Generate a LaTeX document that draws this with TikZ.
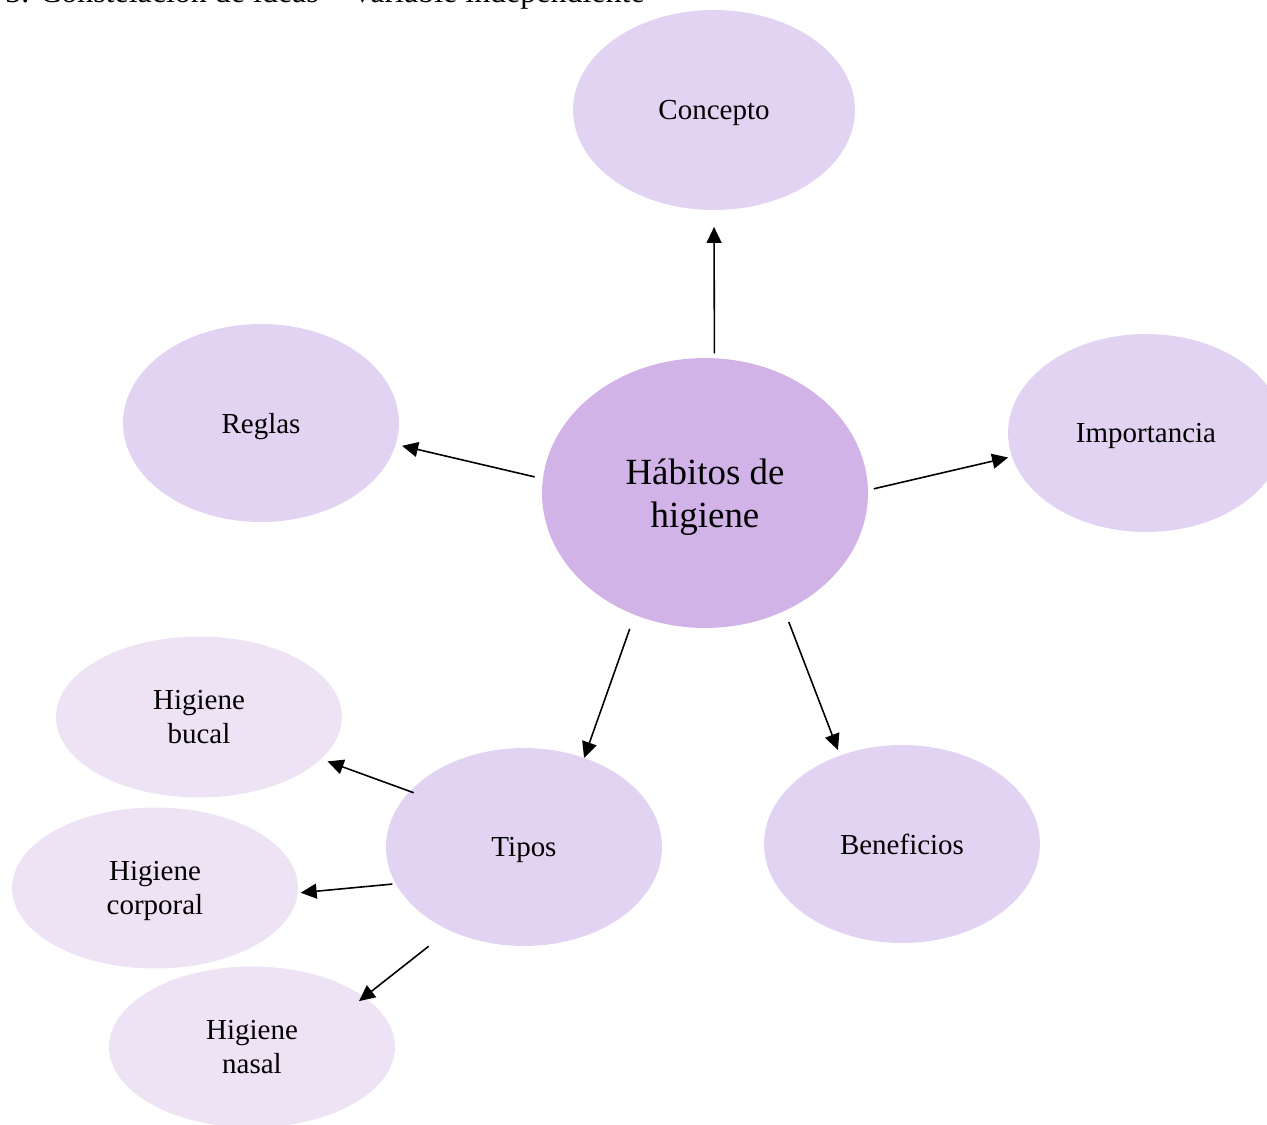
\documentclass[tikz,border=0pt]{standalone}
\usepackage{fontspec}
\setmainfont{Liberation Serif}
\usetikzlibrary{arrows.meta,shapes.geometric}
\definecolor{lila}{RGB}{227,211,242}
\definecolor{lilamain}{RGB}{210,179,232}
\definecolor{lilasub}{RGB}{237,227,245}
\tikzset{
bubble/.style = {ellipse, fill = lila, draw = none, outer sep = 0pt, minimum width = 5.52cm, minimum height = 3.96cm, align = center, text depth = 0pt, font = \fontsize{16.5}{19.3}\selectfont},
mainbubble/.style = {bubble, fill = lilamain, minimum width = 6.52cm, minimum height = 5.4cm, font = \fontsize{21}{24.4}\selectfont},
subbubble/.style = {bubble, fill = lilasub, minimum width = 5.72cm, minimum height = 3.22cm},
arr/.style = {-{Triangle[length = 0.32cm, width = 0.3cm]}, line width = 0.9pt, black}
}

\begin{document}
\begin{tikzpicture} [x = 0.02cm, y = -0.02cm]
\useasboundingbox (0, 0) rectangle (1267, 1125);
\node[anchor = base west, inner sep = 0pt, font = \fontsize{18.2}{21}\selectfont] (titulo) at (5, 3){3. Constelación de ideas – Variable independiente};
\node[mainbubble] (habitos) at (705, 493){Hábitos de\\higiene};
\node[bubble, minimum width = 5.64cm, minimum height = 4cm] (concepto) at (714, 110){Concepto};
\node[bubble] (reglas) at (261, 423){Reglas};
\node[bubble] (importancia) at (1146, 433){Importancia};
\node[bubble] (tipos) at (524, 847){Tipos};
\node[bubble] (beneficios) at (902, 844){Beneficios};
\node[subbubble] (bucal) at (199, 717){Higiene\\bucal};
\node[subbubble] (corporal) at (155, 888){Higiene\\corporal};
\node[subbubble] (nasal) at (252, 1047){Higiene\\nasal};
\draw[arr, shorten <= 0.1cm, shorten >= 0.34cm] (habitos.86) -- (concepto.-90);
\draw[arr, shorten <= 0.17cm, shorten >= 0.13cm] (habitos.175.7) -- (reglas.-9.3);
\draw[arr, shorten <= 0.12cm, shorten >= 0.08cm] (habitos.1) -- (importancia.-170.7);
\draw[arr, shorten <= 0.3cm] (habitos.-120) -- (tipos.56.8);
\draw[arr, shorten <= 0.24cm, shorten >= 0.12cm] (habitos.-56.1) -- (beneficios.125.8);
\draw[arr, shorten <= -0.08cm, shorten >= 0.14cm] (tipos.154.5) -- (bucal.-19.4);
\draw[arr, shorten <= 0.07cm, shorten >= 0.06cm] (tipos.-164.3) -- (corporal.-2);
\draw[arr, shorten <= 0.52cm, shorten >= -0.13cm] (tipos.-132) -- (nasal.24);
\end{tikzpicture}
\end{document}
